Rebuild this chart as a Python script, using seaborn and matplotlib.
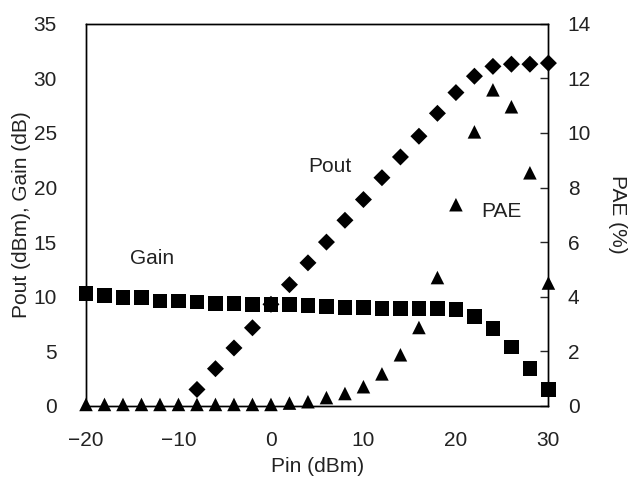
import numpy as np
import pandas as pd
import matplotlib
matplotlib.use("Agg")
import matplotlib.pyplot as plt
import seaborn as sns

pin = [-20, -18, -16, -14, -12, -10, -8, -6, -4, -2, 0, 2, 4, 6, 8, 10, 12, 14, 16, 18, 20, 22, 24, 26, 28, 30]
gain = [10.3, 10.1, 9.9, 9.9, 9.6, 9.6, 9.5, 9.4, 9.4, 9.3, 9.3, 9.3, 9.2, 9.1, 9.0, 9.0, 8.9, 8.9, 8.9, 8.9, 8.8, 8.2, 7.1, 5.4, 3.4, 1.5]
pout_pin = [-8, -6, -4, -2, 0, 2, 4, 6, 8, 10, 12, 14, 16, 18, 20, 22, 24, 26, 28, 30]
pout = [1.5, 3.4, 5.3, 7.15, 9.3, 11.1, 13.1, 15.0, 17.0, 18.9, 20.9, 22.8, 24.7, 26.8, 28.7, 30.2, 31.1, 31.3, 31.3, 31.4]
pae = [0.05, 0.05, 0.05, 0.05, 0.05, 0.05, 0.05, 0.05, 0.05, 0.05, 0.05, 0.1, 0.15, 0.3, 0.45, 0.7, 1.17, 1.87, 2.87, 4.7, 7.37, 10.04, 11.58, 10.96, 8.54, 4.5]

sns.set_style("white")
plt.rcParams['font.family'] = ['Liberation Sans', 'DejaVu Sans']

fig = plt.figure(figsize=(6.3, 4.86), dpi=100)
ax = fig.add_axes([0.1365, 0.165, 0.734, 0.786])
ax2 = ax.twinx()

df_g = pd.DataFrame({"pin": pin, "gain": gain, "pae": pae})
df_p = pd.DataFrame({"pin": pout_pin, "pout": pout})

sns.scatterplot(data=df_p, x="pin", y="pout", marker="D", s=75, color="black", edgecolor="none", ax=ax, zorder=2, clip_on=False)
sns.scatterplot(data=df_g, x="pin", y="gain", marker="s", s=110, color="black", edgecolor="none", ax=ax, zorder=3, clip_on=False)
sns.scatterplot(data=df_g, x="pin", y="pae", marker="^", s=95, color="black", edgecolor="none", ax=ax2, zorder=3, clip_on=False)

ax.set_xlim(-20, 30)
ax.set_ylim(0, 35)
ax2.set_ylim(0, 14)
ax.set_xticks([-20, -10, 0, 10, 20, 30])
ax.set_xticklabels(["\u221220", "\u221210", "0", "10", "20", "30"])
ax.set_yticks(range(0, 36, 5))
ax2.set_yticks(range(0, 15, 2))

for a in (ax, ax2):
    for sp in a.spines.values():
        sp.set_visible(True)
        sp.set_color("black")
        sp.set_linewidth(1.0)

fs = 15
tc = "#222222"
ax.tick_params(axis="x", direction="in", length=6, width=1, labelsize=fs, pad=18, colors="black", labelcolor=tc)
ax.tick_params(axis="y", direction="in", length=0, labelsize=fs, pad=21, labelcolor=tc)
ax2.tick_params(axis="y", direction="in", length=6, width=1, labelsize=fs, pad=14, labelcolor=tc)

ax.set_xlabel("Pin (dBm)", fontsize=fs, labelpad=5, color=tc)
ax.set_ylabel("Pout (dBm), Gain (dB)", fontsize=fs, labelpad=2, color=tc)
ax2.set_ylabel("PAE (%)", fontsize=fs, rotation=270, labelpad=26, color=tc)

ax.text(6.4, 21.9, "Pout", fontsize=fs, color=tc, ha="center", va="center")
ax.text(-12.85, 13.5, "Gain", fontsize=fs, color=tc, ha="center", va="center")
ax.text(24.9, 17.8, "PAE", fontsize=fs, color=tc, ha="center", va="center")

fig.savefig("out.png", dpi=100)
